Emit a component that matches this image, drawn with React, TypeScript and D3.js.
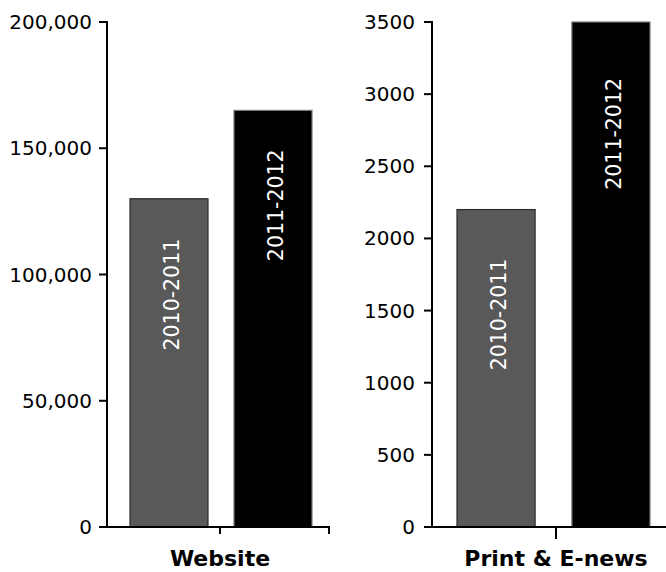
import React from "react";
import * as d3 from "d3";

const series = ["2010-2011", "2011-2012"];
const websiteValues = [130000, 165000];
const printValues = [2200, 3500];
const websiteTicks = [0, 50000, 100000, 150000, 200000];
const printTicks = [0, 500, 1000, 1500, 2000, 2500, 3000, 3500];
const categories = ["Website", "Print & E-news"];

const colors = ["#595959", "#000000"];
const strokes = ["#2a2a2a", "#7a7a7a"];

const W = 666;
const H = 572;
const FONT = "'DejaVu Sans', 'Open Sans', sans-serif";

type PanelCfg = {
  axisX: number;
  axisEnd: number;
  centerTick: number;
  centerTickLen: number;
  endTick: boolean;
  barRange: [number, number];
  barPad: number;
  max: number;
  ticks: number[];
  fmt: (v: number) => string;
  values: number[];
  category: string;
  labelOffset: number[];
  labelGap: number;
};

const yTop = 22;
const yBottom = 527;

function Panel({ cfg }: { cfg: PanelCfg }) {
  const y = d3.scaleLinear().domain([0, cfg.max]).range([yBottom, yTop]);
  const xb = d3
    .scaleBand<string>()
    .domain(series)
    .range(cfg.barRange)
    .paddingInner(cfg.barPad)
    .paddingOuter(0);
  return (
    <g>
      {series.map((s, i) => {
        const x0 = xb(s)!;
        const bw = xb.bandwidth();
        const yt = y(cfg.values[i]);
        return (
          <g key={s}>
            <rect
              x={x0}
              y={yt}
              width={bw}
              height={yBottom - yt}
              fill={colors[i]}
              stroke={strokes[i]}
              strokeWidth={1.2}
            />
            <text
              transform={`translate(${x0 + bw / 2 + 3},${yt + cfg.labelOffset[i]}) rotate(-90)`}
              textAnchor="end"
              dominantBaseline="central"
              fill="#fff"
              fontSize={20.5}
              fontFamily={FONT}
            >
              {s}
            </text>
          </g>
        );
      })}
      {/* y axis */}
      <line x1={cfg.axisX} x2={cfg.axisX} y1={y(cfg.max) - 1} y2={yBottom + 1} stroke="#000" strokeWidth={2} />
      {cfg.ticks.map((t) => (
        <g key={t}>
          <line x1={cfg.axisX - 8} x2={cfg.axisX} y1={y(t)} y2={y(t)} stroke="#000" strokeWidth={2} />
          <text
            x={cfg.axisX - cfg.labelGap}
            y={y(t)}
            textAnchor="end"
            dominantBaseline="central"
            fontSize={20}
            fontFamily={FONT}
            fill="#000"
          >
            {cfg.fmt(t)}
          </text>
        </g>
      ))}
      {/* x axis */}
      <line x1={cfg.axisX - 1} x2={cfg.axisEnd} y1={yBottom} y2={yBottom} stroke="#000" strokeWidth={2} />
      <line
        x1={cfg.centerTick}
        x2={cfg.centerTick}
        y1={yBottom}
        y2={yBottom + cfg.centerTickLen}
        stroke="#000"
        strokeWidth={2}
      />
      {cfg.endTick && (
        <line x1={cfg.axisEnd - 1} x2={cfg.axisEnd - 1} y1={yBottom} y2={yBottom + 7} stroke="#000" strokeWidth={2} />
      )}
      <text
        x={cfg.centerTick}
        y={566}
        textAnchor="middle"
        fontSize={22}
        fontWeight="bold"
        fontFamily={FONT}
        fill="#000"
      >
        {cfg.category}
      </text>
    </g>
  );
}

export default function App() {
  const commaFmt = d3.format(",");
  const plainFmt = d3.format("d");
  const left: PanelCfg = {
    axisX: 107,
    axisEnd: 330,
    centerTick: 220,
    centerTickLen: 7,
    endTick: true,
    barRange: [130, 312],
    barPad: 0.25,
    max: 200000,
    ticks: websiteTicks,
    fmt: commaFmt,
    values: websiteValues,
    category: categories[0],
    labelOffset: [40, 39],
    labelGap: 15,
  };
  const right: PanelCfg = {
    axisX: 432,
    axisEnd: 666,
    centerTick: 556,
    centerTickLen: 12,
    endTick: false,
    barRange: [457, 650],
    barPad: 0.32,
    max: 3500,
    ticks: printTicks,
    fmt: plainFmt,
    values: printValues,
    category: categories[1],
    labelOffset: [49, 56],
    labelGap: 17,
  };
  return (
    <svg
      width={W}
      height={H}
      style={{ position: "absolute", left: 0, top: 0, background: "#fff" }}
    >
      <Panel cfg={left} />
      <Panel cfg={right} />
    </svg>
  );
}
